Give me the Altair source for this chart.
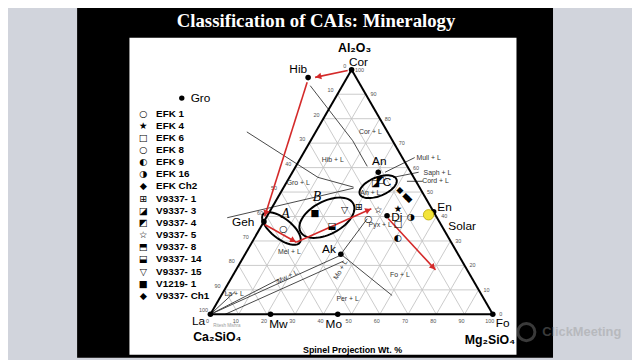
import math
import pandas as pd
import altair as alt

# ---------------- values ----------------
TITLE = "Classification of CAIs: Mineralogy"
AXIS_TITLE = "Spinel Projection Wt. %"

# minerals: Al2O3 wt% and Mg2SiO4 wt% (remainder Ca2SiO4)
mineral_names = ["Cor", "Hib", "Geh", "An", "Di", "En", "Ak", "Mw", "Mo", "La", "Fo"]
mineral_al = [100.0, 96.8, 37.9, 58.1, 40.3, 41.9, 24.6, 0.0, 0.0, 0.0, 0.0]
mineral_mg = [0.0, -13.8, 0.0, 30.4, 42.4, 58.1, 33.9, 21.3, 45.1, 0.0, 100.0]

solar_al = [40.7]
solar_mg = [56.9]

# CAI samples plotted inside the triangle
sample_glyphs = ["○", "■", "▽", "⬓", "⊞", "☆", "○", "★", "◑", "□", "◐", "◆", "◆", "◆", "◪", "◩"]
sample_al = [34.7, 41.5, 42.7, 35.9, 44.0, 42.7, 39.1, 43.1, 39.9, 37.1, 31.0, 50.8, 48.4, 47.2, 53.6, 54.8]
sample_mg = [8.5, 16.3, 26.2, 25.1, 30.5, 38.1, 36.4, 44.9, 51.0, 47.9, 50.9, 41.7, 45.0, 46.7, 31.6, 32.7]

legend_names = ["EFK 1", "EFK 4", "EFK 6", "EFK 8", "EFK 9", "EFK 16", "EFK Ch2",
                "V9337- 1", "V9337- 3", "V9337- 4", "V9337- 5", "V9337- 8",
                "V9337- 14", "V9337- 15", "V1219- 1", "V9337- Ch1"]
legend_glyphs = ["○", "★", "□", "○", "◐", "◑", "◆", "⊞", "◪", "◩", "☆", "⬒", "⬓", "▽", "■", "◆"]

# phase-field boundary curves (Al2O3 %, Mg2SiO4 %)
boundary_al = [[74.6, 56.0, 52.0], [39.5, 51.6], [93.5, 71.0, 60.5], [64.1, 58.1],
               [58.1, 56.0], [54.4, 54.4], [0, 14.5], [0, 24.2], [0, 21.8], [0, 9.3],
               [24.6, 7.7], [24.6, 39.1]]
boundary_mg = [[-24.4, 10.1, 24.7], [-13.8, 24.9], [-11.4, 14.9, 25.3], [40.3, 32.8],
               [44.7, 36.7], [48.0, 42.4], [0, 17.2], [0, 34.1], [5.2, 36.3], [0, 4.1],
               [33.9, 60.5], [33.9, 36.0]]

field_labels = ["Cor + L", "Hib + L", "Gro + L", "An + L", "Mull + L", "Saph + L", "Cord + L",
                "Pyx + L", "Mel + L", "Fo + L", "Per + L", "La + L", "Mw + L", "Mo + L"]

tick_values = list(range(0, 101, 10))

# ---------------- layout helpers ----------------
S = 2.86            # pixels per wt% unit
X0, Y0 = 213.0, 316.0
SQ = math.sqrt(3) / 2
W, H = 632, 352
XS = alt.Scale(domain=[(8 - X0) / S, (8 + W - X0) / S], nice=False, zero=False)
YS = alt.Scale(domain=[(Y0 - 8 - H) / S, (Y0 - 8) / S], nice=False, zero=False)


def t2u(al, mg):
    return mg + al / 2.0, al * SQ


def px2u(px, py):
    return (px - X0) / S, (Y0 - py) / S


def XY(ch, **kw):
    return ch.encode(x=alt.X("x:Q", scale=XS, axis=None),
                     y=alt.Y("y:Q", scale=YS, axis=None), **kw)


def text_layer(df, **mk):
    base = dict(font="Liberation Sans", color="black", align="center", baseline="middle")
    base.update(mk)
    enc = {"text": alt.Text("t:N")}
    if "ang" in df.columns:
        enc["angle"] = alt.Angle("ang:Q", scale=None)
    return XY(alt.Chart(df).mark_text(**base), **enc)


one = pd.DataFrame({"k": [0]})
layers = []

# slide background
layers.append(alt.Chart(one).mark_rect(color="black").encode(
    x=alt.value(70), x2=alt.value(552), y=alt.value(-10), y2=alt.value(H)))
layers.append(alt.Chart(one).mark_rect(color="white").encode(
    x=alt.value(123), x2=alt.value(515), y=alt.value(28), y2=alt.value(349)))

# grid
g = []
for k in range(10, 100, 10):
    for a, b in [((k, 0), (k, 100 - k)), ((0, k), (100 - k, k)), ((0, k), (k, 0))]:
        x1, y1 = t2u(*a)
        x2, y2 = t2u(*b)
        g.append(dict(x=x1, y=y1, x2=x2, y2=y2))
grid = pd.DataFrame(g)
layers.append(XY(alt.Chart(grid).mark_rule(color="#c4c4c4", strokeWidth=0.9), x2="x2:Q", y2="y2:Q"))

# tick labels
bt = pd.DataFrame([dict(zip(("x", "y"), t2u(0, v)), t=str(v)) for v in tick_values])
lt = pd.DataFrame([dict(zip(("x", "y"), t2u(100 - v, 0)), t=str(v)) for v in tick_values])
rt = pd.DataFrame([dict(zip(("x", "y"), t2u(v, 100 - v)), t=str(v)) for v in tick_values])
layers.append(text_layer(bt, fontSize=5.5, color="#555", dx=-3, dy=7))
layers.append(text_layer(lt, fontSize=5.5, color="#555", dx=-7, dy=-4))
layers.append(text_layer(rt, fontSize=5.5, color="#555", dx=8, dy=0))

# phase boundaries
b = []
for i, (als, mgs) in enumerate(zip(boundary_al, boundary_mg)):
    for j, (a, m) in enumerate(zip(als, mgs)):
        x, y = t2u(a, m)
        b.append(dict(x=x, y=y, id=i, o=j))
layers.append(XY(alt.Chart(pd.DataFrame(b)).mark_line(color="#333", strokeWidth=0.9),
                 detail="id:N", order="o:Q"))

# triangle edges
tri = []
for a, c in [((0, 0), (0, 100)), ((0, 100), (100, 0)), ((100, 0), (0, 0))]:
    x1, y1 = t2u(*a)
    x2, y2 = t2u(*c)
    tri.append(dict(x=x1, y=y1, x2=x2, y2=y2))
layers.append(XY(alt.Chart(pd.DataFrame(tri)).mark_rule(color="black", strokeWidth=2),
                 x2="x2:Q", y2="y2:Q"))

# ellipses A, B, C  (centre Al, Mg, semi-axes, rotation)
ell = [("A", 35.1, 7.6, 8.2, 3.6, -38), ("B", 39.5, 21.5, 10.6, 5.8, 28), ("C", 52.2, 33.3, 7.0, 3.3, 22)]
e = []
for name, al, mg, a, bb, ang in ell:
    cx, cy = t2u(al, mg)
    ph = math.radians(ang)
    for j in range(73):
        t = 2 * math.pi * j / 72
        x = cx + a * math.cos(t) * math.cos(ph) - bb * math.sin(t) * math.sin(ph)
        y = cy + a * math.cos(t) * math.sin(ph) + bb * math.sin(t) * math.cos(ph)
        e.append(dict(x=x, y=y, id=name, o=j))
layers.append(XY(alt.Chart(pd.DataFrame(e)).mark_line(color="black", strokeWidth=2),
                 detail="id:N", order="o:Q"))

# red arrows (annotation path, picture pixels)
red_paths = [[(352, 69), (319, 76)], [(311, 81), (268, 217)], [(268, 225), (300, 243)],
             [(300, 243), (376, 209)], [(393, 219), (441, 271)]]
r, heads = [], []
for i, p in enumerate(red_paths):
    pts = [px2u(*q) for q in p]
    for j, (x, y) in enumerate(pts):
        r.append(dict(x=x, y=y, id=i, o=j))
    (xa, ya), (xb, yb) = pts[-2], pts[-1]
    ang = math.degrees(math.atan2(xb - xa, yb - ya)) % 360
    L = math.hypot(xb - xa, yb - ya)
    heads.append(dict(x=xb - (xb - xa) / L * 1.2, y=yb - (yb - ya) / L * 1.2, ang=ang))
layers.append(XY(alt.Chart(pd.DataFrame(r)).mark_line(color="#d42a2a", strokeWidth=1.6),
                 detail="id:N", order="o:Q"))
layers.append(XY(alt.Chart(pd.DataFrame(heads)).mark_point(shape="triangle-up", filled=True,
                                                           color="#d42a2a", size=45, opacity=1),
                 angle=alt.Angle("ang:Q", scale=None)))

# mineral dots
mins = pd.DataFrame([dict(zip(("x", "y"), t2u(a, m)), t=n)
                     for n, a, m in zip(mineral_names, mineral_al, mineral_mg)])
layers.append(XY(alt.Chart(mins).mark_point(shape="circle", filled=True, color="black",
                                            size=32, opacity=1)))
sol = pd.DataFrame([dict(zip(("x", "y"), t2u(a, m))) for a, m in zip(solar_al, solar_mg)])
layers.append(XY(alt.Chart(sol).mark_point(shape="circle", filled=True, fill="#f3e43a",
                                           stroke="#b8a800", strokeWidth=0.8, size=110, opacity=1)))

# samples
smp = pd.DataFrame([dict(zip(("x", "y"), t2u(a, m)), t=g_)
                    for g_, a, m in zip(sample_glyphs, sample_al, sample_mg)])
layers.append(text_layer(smp, font="DejaVu Sans", fontSize=9.5))

# mineral labels
offs = {"Cor": (7, -8), "Hib": (-10, -9), "Geh": (-21, 0), "An": (1, -11), "Di": (10, 1),
        "En": (11, -5), "Ak": (-12, -5), "Mw": (8, 10), "Mo": (-4, 10), "La": (-12, 7),
        "Fo": (10, 9)}
lab = []
for n, a, m in zip(mineral_names, mineral_al, mineral_mg):
    x, y = t2u(a, m)
    dx, dy = offs[n]
    lab.append(dict(x=x + dx / S, y=y - dy / S, t=n))
layers.append(text_layer(pd.DataFrame(lab), fontSize=12))
sx, sy = t2u(solar_al[0], solar_mg[0])
layers.append(text_layer(pd.DataFrame([dict(x=sx + 20 / S, y=sy - 11 / S, t="Solar")]),
                         fontSize=12, align="left"))

# field labels
fpos = [(375, 131), (337, 160), (302, 183), (375, 193), (434, 158), (443, 173), (441, 181),
        (385, 226), (293, 253), (405, 276), (352, 301), (237, 295), (291, 278), (345, 271)]
fang = [0] * 12 + [333, 300]
fl = pd.DataFrame([dict(zip(("x", "y"), px2u(*p)), t=t, ang=a) for t, p, a in zip(field_labels, fpos, fang)])
layers.append(text_layer(fl, fontSize=7, color="#333"))

# ellipse letters
ab = pd.DataFrame([dict(zip(("x", "y"), px2u(289, 214)), t="A"), dict(zip(("x", "y"), px2u(321, 197)), t="B")])
layers.append(text_layer(ab, font="Liberation Serif", fontStyle="italic", fontSize=14))
layers.append(text_layer(pd.DataFrame([dict(zip(("x", "y"), px2u(392, 182)), t="C")]), fontSize=12))

# corner component labels
corner = pd.DataFrame([dict(zip(("x", "y"), px2u(359, 46)), t="Al₂O₃"),
                       dict(zip(("x", "y"), px2u(220, 339)), t="Ca₂SiO₄"),
                       dict(zip(("x", "y"), px2u(496, 342)), t="Mg₂SiO₄")])
layers.append(text_layer(corner, fontSize=12.5, fontWeight="bold"))
layers.append(text_layer(pd.DataFrame([dict(zip(("x", "y"), px2u(357, 352)), t=AXIS_TITLE)]),
                         fontSize=9, fontWeight="bold"))
layers.append(text_layer(pd.DataFrame([dict(zip(("x", "y"), px2u(216, 328)), t="Ritesh Mishra")]),
                         fontSize=4.5, color="#999", align="left"))

# legend
gx, gy = px2u(184, 97)
layers.append(XY(alt.Chart(pd.DataFrame([dict(x=gx, y=gy)])).mark_point(
    shape="circle", filled=True, color="black", size=30, opacity=1)))
layers.append(text_layer(pd.DataFrame([dict(x=gx + 9 / S, y=gy, t="Gro")]), fontSize=12, align="left"))
lg_sym, lg_txt = [], []
for i, (n, gl) in enumerate(zip(legend_names, legend_glyphs)):
    yy = 112.7 + 12.31 * i
    x1, y1 = px2u(145, yy)
    x2, y2 = px2u(158, yy)
    lg_sym.append(dict(x=x1, y=y1, t=gl))
    lg_txt.append(dict(x=x2, y=y2, t=n))
layers.append(text_layer(pd.DataFrame(lg_sym), font="DejaVu Sans", fontSize=9.5))
layers.append(text_layer(pd.DataFrame(lg_txt), fontSize=10, fontWeight="bold", align="left"))

# title and watermark
layers.append(alt.Chart(one).mark_text(text=TITLE, font="Liberation Serif", fontSize=19,
                                       fontWeight="bold", color="white", align="center",
                                       baseline="middle").encode(x=alt.value(312), y=alt.value(11)))
layers.append(alt.Chart(one).mark_point(shape="circle", filled=False, color="#919191", strokeWidth=3,
                                        size=300, opacity=0.4).encode(x=alt.value(525), y=alt.value(326)))
layers.append(alt.Chart(one).mark_text(text="ClickMeeting", font="Liberation Sans", fontSize=13,
                                       fontWeight="bold", color="#919191", opacity=0.4, align="left",
                                       baseline="middle").encode(x=alt.value(541), y=alt.value(326)))

chart = alt.layer(*layers).properties(
    width=W, height=H, autosize=alt.AutoSizeParams(type="none"), padding=0
).configure(background="#d1d4dc").configure_view(stroke=None)

chart.save("out.html", embed_options={"renderer": "svg", "actions": False})
